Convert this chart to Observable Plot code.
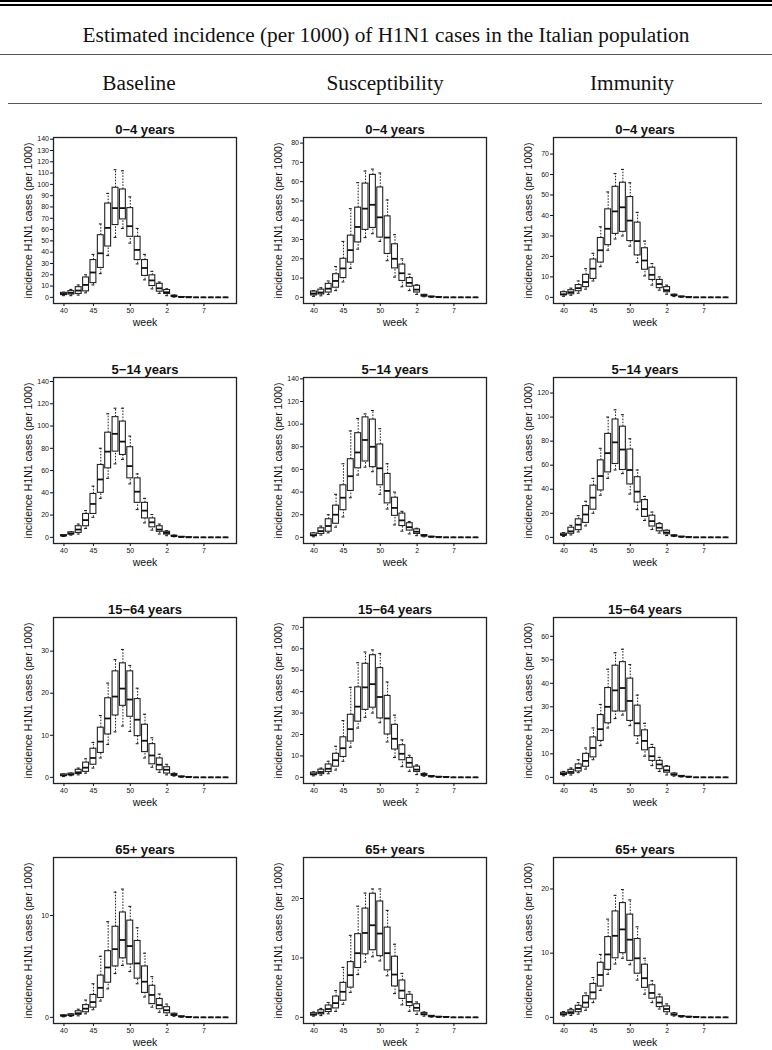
<!DOCTYPE html>
<html><head><meta charset="utf-8">
<script src="https://cdn.jsdelivr.net/npm/d3@7"></script>
<script src="https://cdn.jsdelivr.net/npm/@observablehq/plot@0.6"></script>
<style>
body{margin:0;background:#fff;width:772px;height:1050px;overflow:hidden;position:relative;}
.abs{position:absolute;}
.rule{position:absolute;background:#000;}
.serif{font-family:"Liberation Serif","Times New Roman",serif;color:#111;text-align:center;white-space:nowrap;}
.panel{position:absolute;width:250px;height:240px;}
</style></head><body>
<div class="rule" style="left:0;top:0;width:772px;height:2px"></div>
<div class="rule" style="left:0;top:3.5px;width:772px;height:2px"></div>
<div id="title" class="abs serif" style="left:0;top:20px;width:772px;height:30px;line-height:30px;font-size:21.3px"></div>
<div class="rule" style="left:0;top:53.5px;width:772px;height:1.5px;background:#555"></div>
<div id="heads"></div>
<div class="rule" style="left:8px;top:102.5px;width:754px;height:1.5px;background:#555"></div>
<div id="grid"></div>
<script>
const chartTitle = "Estimated incidence (per 1000) of H1N1 cases in the Italian population";
const scenarios = ["Baseline", "Susceptibility", "Immunity"];
const scenarioCenters = [139, 385, 632];
const ageGroups = ["0\u22124 years", "5\u221214 years", "15\u221264 years", "65+ years"];
const yLabel = "incidence H1N1 cases (per 1000)";
const xLabel = "week";
// box positions (weeks) and axis tick labels
const weekIndex = d3.range(1, 24);
const xTickPositions = [1, 5, 10, 15, 20];
const xTickLabels = ["40", "45", "50", "2", "7"];

// each row: [lower whisker, Q1, median, Q3, upper whisker], one row per week
const baseline_0_4 = [
[1.5,2,3,4,4.5],[1.5,2.5,4,5.5,7],[2,3,6,9,11],[4,5.3,11,17.6,20],[11,12.6,22,33,38],
[21,26,39,55,65],[37,45,61.5,83,92],[53,64,79,97,113],[61,69,79,95.5,112],[48,53.6,63,79,89],
[29.6,33,42,53.6,61],[15.5,19,26,33,38],[7.5,10,15,19.5,23],[3.5,5,8,12,13.5],[1.5,3,4.5,6.5,7.5],
[0.2,0.5,1,1.5,2],[0,0.1,0.2,0.3,0.4],[0,0,0.05,0.1,0.1],[0,0,0,0,0],[0,0,0,0,0],[0,0,0,0,0],[0,0,0,0,0],[0,0,0,0,0]];
const susceptibility_0_4 = [
[0.5,1,2,3,3.5],[0.8,1.5,2.5,4,5],[1.5,2.5,4.5,7,8.5],[3.5,5,8.5,12,16],[8,10,15,20,29],
[15,18,24.5,32,46],[25,28.5,36.5,46.5,59.5],[31,35,46,59,65.5],[33,36,48,63.5,66.5],[29,31,41.5,57,64.5],
[19,22.5,31,42,50.5],[10.5,15,20,27.5,32.5],[5.5,8.5,12.5,17,20],[3.5,5.5,7.5,10,12],[1.5,2.5,4,6,6.5],
[0.3,0.5,0.9,1.3,1.5],[0.1,0.2,0.3,0.4,0.5],[0,0.05,0.1,0.1,0.2],[0,0,0,0,0],[0,0,0,0,0],[0,0,0,0,0],[0,0,0,0,0],[0,0,0,0,0]];
const immunity_0_4 = [
[0.5,1,1.5,2.5,3],[1,1.5,2.5,3.5,4.5],[2,3,4.5,6,8],[4,5,7.5,11,14],[8,9,14,18.5,21.5],
[15,17,23,29,34.5],[23,25.5,33.5,43,51.5],[28.5,31,42,54,60.5],[30,32,44,56,62.5],[25,27.5,37.5,49,56],
[17,20.5,27.5,36.5,41.5],[10.5,13.5,18,24,27.5],[6,8.5,11,14.5,16.5],[3.5,4.5,6.5,8.5,10],[1.5,2.5,3.5,5,6],
[0.4,0.7,1,1.3,1.5],[0.1,0.2,0.3,0.4,0.5],[0,0,0.05,0.1,0.1],[0,0,0,0,0],[0,0,0,0,0],[0,0,0,0,0],[0,0,0,0,0],[0,0,0,0,0]];
const baseline_5_14 = [
[0.8,1,1.5,2,2.2],[2,2.5,3.5,4.5,5],[3,4,7,10,12],[8,10,15.5,21,24],[18,21,30,39,46],
[35,40,52,65,80],[53,62,77,94,111],[66,77,93,108,116],[70,74,86,104,116],[48,53,64,81,91],
[25,31,41,53,57],[13,17,24,31,35],[6.5,9,13.5,17,20.5],[3,5,7,10,12],[1.5,2.5,4,5,6],
[0.5,0.8,1.1,1.5,2],[0.1,0.2,0.3,0.5,0.6],[0,0,0.05,0.1,0.1],[0,0,0,0,0],[0,0,0,0,0],[0,0,0,0,0],[0,0,0,0,0],[0,0,0,0,0]];
const susceptibility_5_14 = [
[0.5,1,2,3.5,4],[2,3,5.5,8,10],[4,5,10,16,20],[9,12,20,28,38],[18,24,35,46,65],
[35,41,54,69,94],[55,61,75,92,105],[62,67,86,106,109],[58,62,80,104,112],[38,46,61,82,96],
[25,30,41,56,65],[11,19,26,35,40],[5.5,10,15,21,23],[3,6,9,12.5,14],[1.5,3,5,7,8],
[0.5,1,1.5,2,2.5],[0.2,0.3,0.45,0.6,0.8],[0,0.05,0.1,0.15,0.2],[0,0,0,0,0],[0,0,0,0,0],[0,0,0,0,0],[0,0,0,0,0],[0,0,0,0,0]];
const immunity_5_14 = [
[0.8,1.5,2,3,4],[2,3,5,8,10],[4.5,6,10.5,15,18],[9.5,12,19,26,30],[20,23,33,43,49],
[35,39,51,64,74],[49,54,70,86,100],[56,61,79,98,106],[53,56,73,92,102],[36,44,56,73,82],
[23,29,38,50,56],[14,17,23.5,31,34],[6.5,9,13.5,18,21],[3.5,5,8,11,12],[1.5,2.5,4,5.5,6],
[0.7,1,1.3,1.7,2],[0.2,0.3,0.45,0.6,0.7],[0,0.05,0.1,0.1,0.2],[0,0,0,0,0],[0,0,0,0,0],[0,0,0,0,0],[0,0,0,0,0],[0,0,0,0,0]];
const baseline_15_64 = [
[0.2,0.3,0.5,0.7,0.8],[0.4,0.5,0.7,0.9,1.0],[0.6,0.8,1.2,1.8,2.2],[1,1.3,2.3,3.5,4.4],[2.2,3,4.6,6.8,8.3],
[4.6,5.8,8.5,11.8,14.7],[7.8,10.2,14,18.8,22.4],[10.8,14.7,19.2,25.2,28],[12.2,17,21.1,27.1,30.4],[10.9,14.4,18.5,25.2,26.6],
[8,9.8,13.7,18.6,21.2],[4.6,6,8.7,12.5,15],[2.4,3.1,5.2,7.9,9.4],[1.2,1.7,3,4.5,5.5],[0.6,0.9,1.8,2.4,3.1],
[0.3,0.4,0.6,0.8,1.0],[0.05,0.1,0.15,0.2,0.25],[0,0.02,0.05,0.07,0.1],[0,0,0,0,0],[0,0,0,0,0],[0,0,0,0,0],[0,0,0,0,0],[0,0,0,0,0]];
const susceptibility_15_64 = [
[0.7,1,1.5,2.2,2.6],[1,1.5,2.5,3.6,4.3],[1.7,2.5,4,6,7.5],[3.4,5,8,11,14.5],[7.5,9.5,13.6,18.7,26.5],
[14,16.7,22.5,29.2,42],[23,26,33,42,53.5],[28,31.5,42,53,58.5],[30,32.5,43.5,57,59.5],[25.5,27.5,37.5,51,57.8],
[16.5,20,27.5,38,44.5],[9.3,13,18,24.5,29],[5,8,11,15,17.5],[2.8,4.5,6.8,9,10.3],[1.3,2.5,3.6,5,5.8],
[0.5,0.8,1.2,1.6,2],[0.2,0.3,0.45,0.6,0.7],[0.05,0.1,0.2,0.25,0.3],[0,0.05,0.1,0.1,0.15],[0,0,0,0,0],[0,0,0,0,0],[0,0,0,0,0],[0,0,0,0,0]];
const immunity_15_64 = [
[0.7,1,1.5,2,2.5],[1,1.5,2.3,3.2,4],[2,2.5,4,5.5,7.5],[3.5,4.5,7,10,12.5],[7.5,8.5,12.5,17,21],
[13.5,15.5,20.5,26.5,31],[21,23,30,38,46],[25,28,37,47.5,53],[26.5,28,38,49,54.5],[22,24,32.5,42,48],
[14.5,17.5,23,30.5,35],[9,11.5,15.5,20,23],[5,7,9,12.5,14],[2.5,3.5,5.5,7,8.5],[1,2,3,4.5,5],
[0.5,0.8,1.2,1.6,1.8],[0.2,0.3,0.45,0.6,0.7],[0.05,0.1,0.2,0.25,0.3],[0,0,0,0,0],[0,0,0,0,0],[0,0,0,0,0],[0,0,0,0,0],[0,0,0,0,0]];
const baseline_65 = [
[0.05,0.1,0.15,0.2,0.25],[0.1,0.15,0.2,0.3,0.35],[0.15,0.25,0.4,0.6,0.8],[0.35,0.5,0.85,1.2,1.7],[0.75,0.95,1.5,2.2,3.3],
[1.6,1.9,2.9,4.1,6],[2.8,3.4,4.9,6.5,9.4],[4.3,5,6.7,8.9,12.3],[5.1,5.8,7.6,10.3,12.6],[4.5,5.2,7,9.5,10.9],
[3.3,3.8,5.3,7.5,8.8],[2,2.4,3.5,5,6.3],[1,1.3,2.2,3.1,4],[0.5,0.8,1.2,1.8,2.3],[0.2,0.4,0.7,1,1.3],
[0.1,0.15,0.25,0.35,0.4],[0.02,0.05,0.07,0.1,0.12],[0,0.01,0.02,0.03,0.04],[0,0,0,0,0],[0,0,0,0,0],[0,0,0,0,0],[0,0,0,0,0],[0,0,0,0,0]];
const susceptibility_65 = [
[0.2,0.3,0.5,0.7,0.9],[0.3,0.5,0.8,1.2,1.5],[0.6,0.9,1.4,2,2.5],[1,1.5,2.4,3.5,4.5],[2.2,2.8,4.3,5.8,8.4],
[4.2,5,7.1,9.3,13.8],[7.2,8.3,10.8,14,18.7],[9.3,10.6,14.2,18.3,20.9],[10.2,11.3,15.5,20.8,21.6],[9.5,10.3,14.1,19.5,21.6],
[7,7.9,10.8,15.1,18],[4,5.2,7.2,10.2,12.3],[2.1,3.1,4.5,6.2,7.4],[1,1.9,2.6,3.8,4.3],[0.5,1,1.6,2.2,2.6],
[0.2,0.35,0.55,0.75,0.9],[0.05,0.1,0.17,0.25,0.3],[0.02,0.05,0.07,0.1,0.12],[0,0.02,0.04,0.05,0.06],[0,0,0,0,0],[0,0,0,0,0],[0,0,0,0,0],[0,0,0,0,0]];
const immunity_65 = [
[0.2,0.3,0.5,0.7,0.9],[0.3,0.5,0.8,1.1,1.4],[0.5,0.8,1.3,1.8,2.3],[1.1,1.5,2.3,3.3,3.8],[2.3,2.8,3.9,5.2,6.2],
[4.2,4.8,6.6,8.5,9.8],[6.7,7.4,9.8,12.5,15.3],[8.3,9.2,12.7,16.5,19],[9.2,10,13.7,17.8,19.9],[8.2,8.8,12.1,16,18.3],
[5.8,6.8,9.2,12.2,14.1],[3.6,4.6,6.1,8.2,9.2],[2.3,2.9,3.8,5,5.7],[1.3,1.6,2.3,3.1,3.6],[0.5,0.8,1.3,1.7,2.1],
[0.2,0.3,0.45,0.6,0.75],[0.05,0.1,0.15,0.2,0.25],[0.02,0.05,0.07,0.1,0.12],[0,0.01,0.03,0.04,0.05],[0,0,0,0,0],[0,0,0,0,0],[0,0,0,0,0],[0,0,0,0,0]];

// y tick values and upper axis limit, per panel
const yTicks_0_4 = [d3.range(0, 141, 10), d3.range(0, 81, 10), d3.range(0, 71, 10)];
const yTicks_5_14 = [d3.range(0, 141, 20), d3.range(0, 141, 20), d3.range(0, 121, 20)];
const yTicks_15_64 = [[0, 10, 20, 30], d3.range(0, 71, 10), d3.range(0, 61, 10)];
const yTicks_65 = [[0, 10], [0, 10, 20], [0, 10, 20]];
const yTop_0_4 = [141.5, 82.9, 78.1];
const yTop_5_14 = [143.6, 141.2, 132.9];
const yTop_15_64 = [38, 74.6, 68];
const yTop_65 = [15.7, 26.9, 24.9];

const grid = [
  [baseline_0_4, susceptibility_0_4, immunity_0_4],
  [baseline_5_14, susceptibility_5_14, immunity_5_14],
  [baseline_15_64, susceptibility_15_64, immunity_15_64],
  [baseline_65, susceptibility_65, immunity_65]
];
const gridTicks = [yTicks_0_4, yTicks_5_14, yTicks_15_64, yTicks_65];
const gridTop = [yTop_0_4, yTop_5_14, yTop_15_64, yTop_65];

document.getElementById("title").textContent = chartTitle;
const heads = document.getElementById("heads");
scenarios.forEach((s, i) => {
  const d = document.createElement("div");
  d.className = "abs serif";
  d.style.cssText = `left:${scenarioCenters[i] - 100}px;top:68px;width:200px;height:30px;line-height:30px;font-size:21.3px`;
  d.textContent = s;
  heads.appendChild(d);
});

function panel(rows, title, yTicks, yTop) {
  const data = rows.map((r, k) => ({i: weekIndex[k], lo: r[0], q1: r[1], med: r[2], q3: r[3], hi: r[4]}));
  const bw = 0.4, sw = 0.2;
  return Plot.plot({
    width: 250, height: 240,
    marginLeft: 53, marginRight: 14, marginTop: 27, marginBottom: 47,
    style: {fontFamily: "'Liberation Sans', Arial, sans-serif", background: "transparent", overflow: "visible", color: "#111"},
    x: {domain: [1 - 0.5 - 0.04 * weekIndex.length, weekIndex.length + 0.5 + 0.04 * weekIndex.length]},
    y: {domain: [-yTop * 0.04 / 1.04, yTop]},
    marks: [
      Plot.ruleX(data, {x: "i", y1: "q3", y2: "hi", stroke: "#222", strokeWidth: 1, strokeDasharray: "1.6,1.4"}),
      Plot.ruleX(data, {x: "i", y1: "lo", y2: "q1", stroke: "#222", strokeWidth: 1, strokeDasharray: "1.6,1.4"}),
      Plot.ruleY(data, {y: "hi", x1: d => d.i - sw, x2: d => d.i + sw, stroke: "#222", strokeWidth: 1.1}),
      Plot.ruleY(data, {y: "lo", x1: d => d.i - sw, x2: d => d.i + sw, stroke: "#222", strokeWidth: 1.1}),
      Plot.rect(data, {x1: d => d.i - bw, x2: d => d.i + bw, y1: "q1", y2: "q3", fill: "white", stroke: "#222", strokeWidth: 1.1}),
      Plot.ruleY(data, {y: "med", x1: d => d.i - bw, x2: d => d.i + bw, stroke: "#111", strokeWidth: 1.8}),
      Plot.frame({stroke: "#222", strokeWidth: 1.3}),
      Plot.axisX({ticks: xTickPositions, tickFormat: d => xTickLabels[xTickPositions.indexOf(d)], tickSize: 3, tickPadding: 1.5, fontSize: 7, fill: "#111", label: null}),
      Plot.axisY({ticks: yTicks, tickFormat: d => String(d), tickSize: 3, tickPadding: 1.5, fontSize: 7, fill: "#111", label: null}),
      Plot.text([title], {frameAnchor: "top", dy: -13, fontSize: 13, fontWeight: "bold", fill: "#111"}),
      Plot.text([xLabel], {frameAnchor: "bottom", dy: 22, fontSize: 10.5, fill: "#111"}),
      Plot.text([yLabel], {frameAnchor: "left", textAnchor: "middle", rotate: -90, dx: -25, fontSize: 10.5, fill: "#111"})
    ]
  });
}

const gridEl = document.getElementById("grid");
grid.forEach((row, r) => {
  row.forEach((rows, c) => {
    const div = document.createElement("div");
    div.className = "panel";
    div.style.left = (c * 250) + "px";
    div.style.top = (110 + r * 240) + "px";
    div.appendChild(panel(rows, ageGroups[r], gridTicks[r][c], gridTop[r][c]));
    gridEl.appendChild(div);
  });
});
</script>
</body></html>
